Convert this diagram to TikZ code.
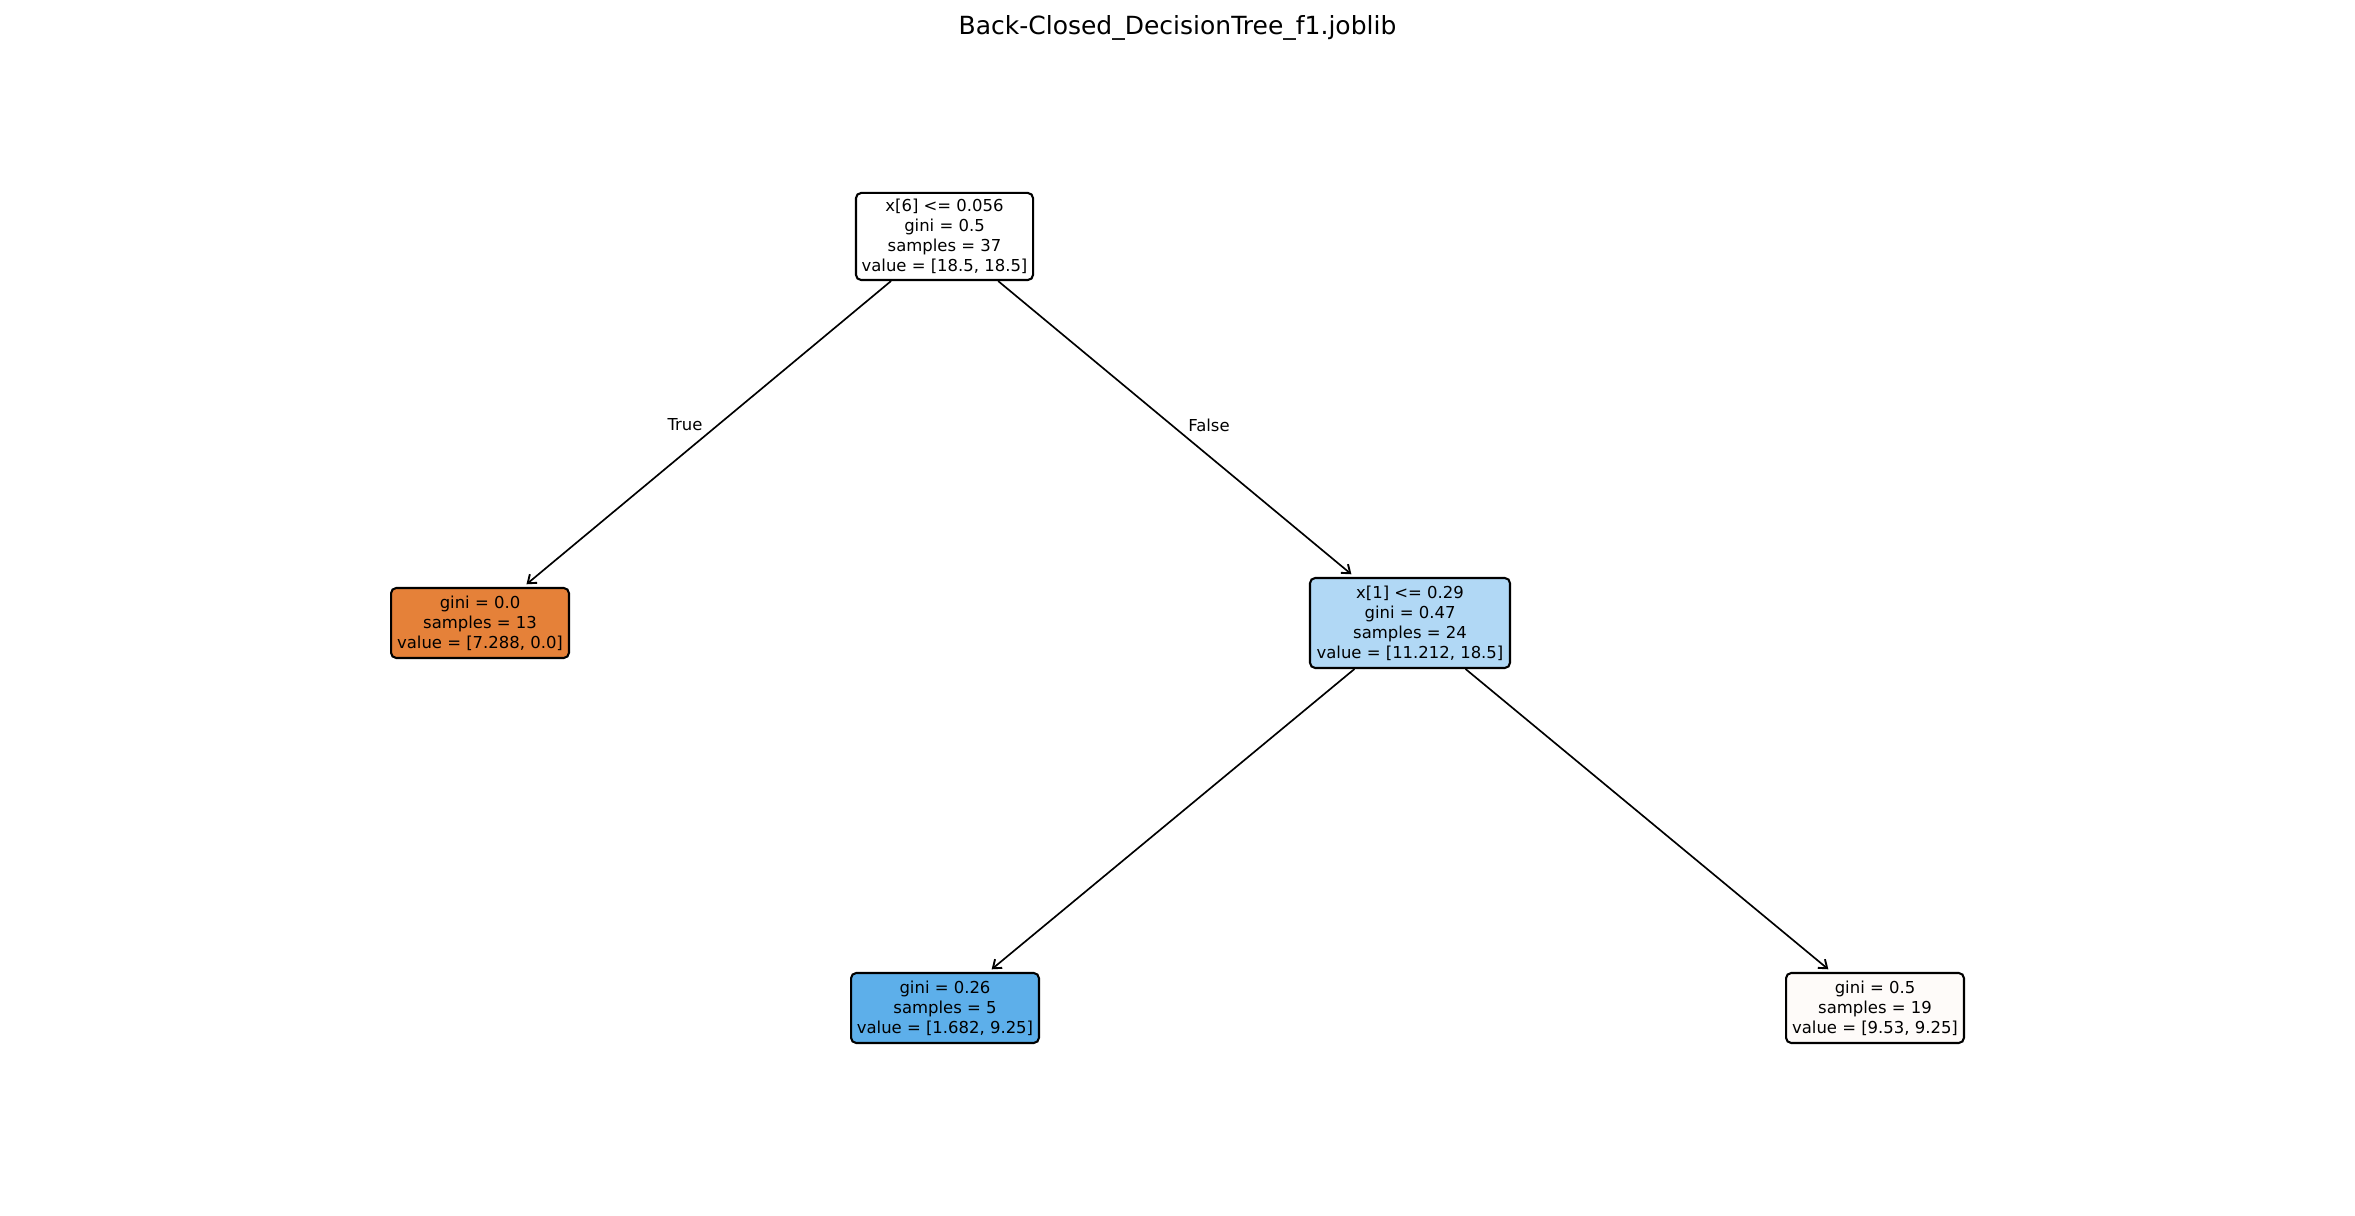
\documentclass[tikz,border=0pt]{standalone}
\usepackage{fontspec}
\setmainfont{DejaVu Sans}
\usetikzlibrary{arrows.meta}
\definecolor{cOrange}{RGB}{229,129,57}
\definecolor{cMid}{RGB}{177,216,245}
\definecolor{cBlue}{RGB}{93,175,234}
\definecolor{cPale}{RGB}{254,251,249}
\tikzset{
  treenode/.style={draw=black, line width=1pt, rounded corners=2.5pt, align=center,
    inner xsep=2pt, inner ysep=0pt, font=\fontsize{7.9}{9.6}\selectfont, text=black},
  edge/.style={draw=black, line width=0.8pt, -{Straight Barb[length=3.6pt,width=5.4pt,line width=0.9pt]}, shorten >=2pt},
  edgelabel/.style={font=\fontsize{7.9}{9.6}\selectfont, inner sep=0pt}
}
\begin{document}
\begin{tikzpicture}[x=0.48pt, y=-0.48pt]
\useasboundingbox (0,0) rectangle (2355,1216);
\node[anchor=base, font=\fontsize{12}{14}\selectfont, inner sep=0pt] (title) at (1177.5,35) {Back-Closed\_DecisionTree\_f1.joblib};

\node[treenode, fill=white, minimum width=85pt, minimum height=41.8pt] (root) at (944.5,236.5)
  {x[6] <= 0.056\\gini = 0.5\\samples = 37\\value = [18.5, 18.5]};
\node[treenode, fill=cOrange, minimum width=85.4pt, minimum height=33.6pt] (leafA) at (480,623)
  {gini = 0.0\\samples = 13\\value = [7.288, 0.0]};
\node[treenode, fill=cMid, minimum width=96pt, minimum height=43.2pt] (mid) at (1410,623)
  {x[1] <= 0.29\\gini = 0.47\\samples = 24\\value = [11.212, 18.5]};
\node[treenode, fill=cBlue, minimum width=90.2pt, minimum height=33.6pt] (leafB) at (945,1008)
  {gini = 0.26\\samples = 5\\value = [1.682, 9.25]};
\node[treenode, fill=cPale, minimum width=85.4pt, minimum height=33.6pt] (leafC) at (1875,1008)
  {gini = 0.5\\samples = 19\\value = [9.53, 9.25]};

\draw[edge] (root) -- (leafA);
\draw[edge] (root) -- (mid);
\draw[edge] (mid) -- (leafB);
\draw[edge] (mid) -- (leafC);

\node[edgelabel] (lblTrue) at (685,425) {True};
\node[edgelabel] (lblFalse) at (1209,425) {False};
\end{tikzpicture}
\end{document}
